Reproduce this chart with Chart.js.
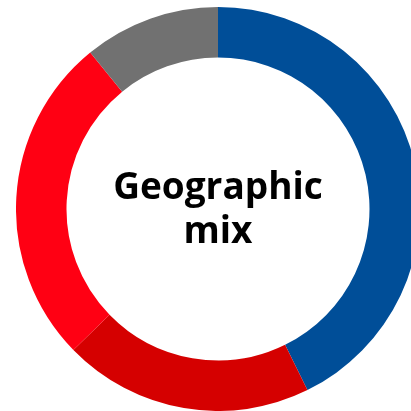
<!DOCTYPE html>
<html>
<head>
<meta charset="utf-8">
<script src="https://cdn.jsdelivr.net/npm/chart.js@4/dist/chart.umd.min.js"></script>
<style>
  html, body { margin: 0; padding: 0; background: #fff; }
  body { width: 411px; height: 411px; overflow: hidden; position: relative; }
  #wrap { position: absolute; left: 16px; top: 7px; width: 404px; height: 404px; }
  #label {
    position: absolute; left: 0; top: 163px; width: 436px;
    text-align: center; font-family: 'Open Sans', sans-serif; font-weight: 700;
    font-size: 37px; line-height: 44px; color: #000;
  }
</style>
</head>
<body>
<div id="wrap"><canvas id="chart-geo-mix"></canvas></div>
<div id="label">Geographic<br>mix</div>
<script>
const regions = ['Region 1', 'Region 2', 'Region 3', 'Region 4']
const shares = [42.7, 20.0, 26.4, 10.9]
const colors = ['#004E98', '#D50000', '#FF0013', '#717171']

const ctx = document.getElementById('chart-geo-mix').getContext('2d')
new Chart(ctx, {
  type: 'doughnut',
  data: {
    labels: regions,
    datasets: [
      {
        data: shares,
        backgroundColor: colors,
        borderWidth: 0
      }
    ]
  },
  options: {
    responsive: true,
    maintainAspectRatio: false,
    animation: false,
    cutout: '75%',
    plugins: {
      legend: { display: false },
      tooltip: { enabled: false }
    }
  }
})
</script>
</body>
</html>
